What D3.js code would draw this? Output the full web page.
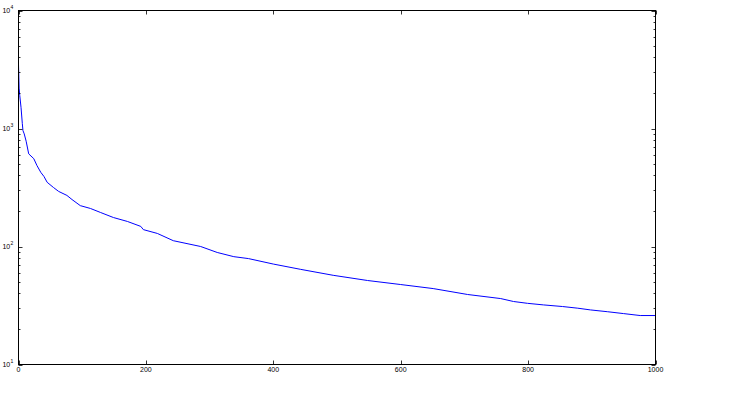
<!DOCTYPE html>
<html>
<head>
<meta charset="utf-8">
<script src="https://cdn.jsdelivr.net/npm/d3@7"></script>
<style>
  html, body { margin: 0; padding: 0; background: #fff; }
  svg { display: block; }
</style>
</head>
<body>
<div id="chart"></div>
<script>
// rank (x) and count (y)
const ranks = [0, 1, 2, 4, 6, 7, 9, 12, 16, 24, 29, 35, 40, 45, 55, 63, 76, 84, 97, 113,
  129, 149, 171, 192, 196, 218, 243, 286, 312, 338, 361, 400, 443, 494, 548, 600, 651,
  705, 757, 777, 799, 824, 854, 878, 898, 925, 950, 976, 1000];
const counts = [3500, 2200, 1900, 1500, 1100, 960, 900, 780, 610, 555, 485, 425, 392, 350,
  316, 293, 271, 250, 222, 210, 194, 176, 163, 148, 139, 129, 112, 100, 89, 82, 79, 71,
  64, 57, 51.5, 47.6, 44, 39.2, 36.2, 34.2, 33, 32, 31, 30, 29, 28, 27, 26, 26];
const xTicks = [0, 200, 400, 600, 800, 1000];
const yDecades = [1, 2, 3, 4];

(function () {
  "use strict";

  const W = 737, H = 409;
  const mLeft = 18.5, mRight = 655.5, mTop = 10.5, mBottom = 364.5;

  const svg = d3.select("#chart").append("svg")
    .attr("width", W).attr("height", H);

  const x = d3.scaleLinear().domain([0, 1000]).range([mLeft, mRight]);
  const y = d3.scaleLog().domain([10, 10000]).range([mBottom, mTop]);

  const data = ranks.map((r, i) => ({ r, c: counts[i] }));

  // --- Line ---
  svg.append("clipPath").attr("id", "clip")
    .append("rect").attr("x", mLeft).attr("y", mTop)
    .attr("width", mRight - mLeft).attr("height", mBottom - mTop);

  svg.append("path")
    .datum(data)
    .attr("clip-path", "url(#clip)")
    .attr("fill", "none")
    .attr("stroke", "#0000ff")
    .attr("stroke-width", 1)
    .attr("d", d3.line().x((d) => x(d.r)).y((d) => y(d.c)));

  // --- Ticks (inside, all four sides) ---
  const tickG = svg.append("g").attr("stroke", "#000").attr("stroke-width", 0.8);
  for (const t of xTicks) {
    const px = Math.round(x(t)) + 0.5;
    tickG.append("line").attr("x1", px).attr("x2", px).attr("y1", mBottom).attr("y2", mBottom - 4);
    tickG.append("line").attr("x1", px).attr("x2", px).attr("y1", mTop).attr("y2", mTop + 4);
  }
  const minor = [];
  for (const d of [1, 2, 3]) for (let m = 2; m <= 9; m++) minor.push(m * Math.pow(10, d));
  for (const v of minor) {
    const py = Math.round(y(v)) + 0.5;
    tickG.append("line").attr("x1", mLeft).attr("x2", mLeft + 2).attr("y1", py).attr("y2", py);
    tickG.append("line").attr("x1", mRight).attr("x2", mRight - 2).attr("y1", py).attr("y2", py);
  }
  for (const e of yDecades) {
    const py = Math.round(y(Math.pow(10, e))) + 0.5;
    tickG.append("line").attr("x1", mLeft).attr("x2", mLeft + 4).attr("y1", py).attr("y2", py);
    tickG.append("line").attr("x1", mRight).attr("x2", mRight - 4).attr("y1", py).attr("y2", py);
  }

  // --- Frame ---
  svg.append("rect")
    .attr("x", mLeft).attr("y", mTop)
    .attr("width", mRight - mLeft).attr("height", mBottom - mTop)
    .attr("fill", "none").attr("stroke", "#000").attr("stroke-width", 1);

  // --- Labels ---
  const font = "'Liberation Sans', Arial, sans-serif";
  svg.append("g").selectAll("text")
    .data(xTicks)
    .join("text")
    .attr("x", (d) => x(d))
    .attr("y", 371.5)
    .attr("text-anchor", "middle")
    .attr("font-family", font)
    .attr("font-size", "7px")
    .attr("fill", "#000")
    .text((d) => d);

  const yl = svg.append("g").selectAll("g")
    .data(yDecades)
    .join("g")
    .attr("transform", (d) => `translate(0,${y(Math.pow(10, d))})`);
  yl.append("text")
    .attr("x", 10.2).attr("y", 2.5)
    .attr("text-anchor", "end")
    .attr("font-family", font).attr("font-size", "7px")
    .text("10");
  yl.append("text")
    .attr("x", 10.4).attr("y", -1.8)
    .attr("font-family", font).attr("font-size", "5px")
    .text((d) => d);
})();
</script>
</body>
</html>
